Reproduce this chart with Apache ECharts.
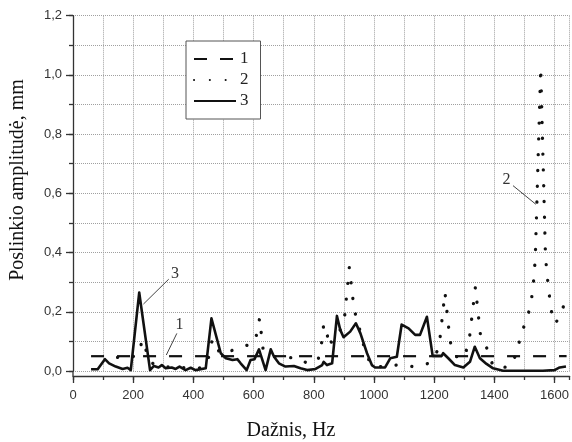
<!DOCTYPE html>
<html><head><meta charset="utf-8">
<script src="https://cdn.jsdelivr.net/npm/echarts@6/dist/echarts.min.js"></script>
<style>html,body{margin:0;padding:0;background:#fff}#c{width:572px;height:442px}</style>
</head><body><div id="c"></div>
<script>
// ---- data ----
const seriesNames = ['1', '2', '3'];
const xTitle = 'Dažnis, Hz';
const yTitle = 'Poslinkio amplitudė, mm';

// curve 1: dashed limit
const curve1 = [[60, 0.05], [1640, 0.05]];
// curve 2: dotted
const curve2 = [
  [148, 0.046], [212, 0.05], [232, 0.105], [255, 0.03], [290, 0.015], [350, 0.012], [420, 0.01],
  [445, 0.02], [463, 0.107], [490, 0.057], [530, 0.07], [561, 0.08], [605, 0.097], [620, 0.178],
  [632, 0.07], [660, 0.05], [700, 0.045], [747, 0.045], [783, 0.023], [815, 0.04], [828, 0.105],
  [833, 0.159], [845, 0.12], [855, 0.082], [861, 0.11], [885, 0.13], [903, 0.189], [918, 0.35],
  [934, 0.208], [950, 0.15], [970, 0.07], [990, 0.02], [1040, 0.012], [1075, 0.02], [1129, 0.015],
  [1184, 0.026], [1212, 0.07], [1219, 0.107], [1236, 0.265], [1253, 0.1], [1269, 0.05],
  [1299, 0.043], [1316, 0.1], [1337, 0.283], [1354, 0.12], [1379, 0.069], [1396, 0.015],
  [1449, 0.012], [1475, 0.06], [1486, 0.114], [1504, 0.167], [1521, 0.22], [1530, 0.3],
  [1536, 0.38], [1554, 1.025], [1570, 0.385], [1580, 0.276], [1594, 0.17], [1602, 0.16],
  [1619, 0.186], [1640, 0.25]
];
// curve 3: solid
const curve3 = [
  [60, 0.006], [82, 0.006], [106, 0.04], [120, 0.026], [142, 0.015], [165, 0.007], [181, 0.011],
  [192, 0.003], [220, 0.265], [256, 0.003], [269, 0.017], [284, 0.012], [295, 0.02], [308, 0.009],
  [328, 0.012], [341, 0.007], [354, 0.015], [374, 0.003], [391, 0.011], [407, 0.003], [441, 0.009],
  [460, 0.178], [491, 0.06], [508, 0.043], [530, 0.037], [546, 0.04], [557, 0.026], [577, 0.003],
  [590, 0.037], [603, 0.04], [618, 0.073], [640, 0.003], [657, 0.073], [668, 0.048], [684, 0.026],
  [706, 0.015], [734, 0.017], [756, 0.009], [778, 0.003], [806, 0.007], [828, 0.02], [833, 0.031],
  [844, 0.02], [861, 0.026], [877, 0.186], [888, 0.139], [899, 0.114], [921, 0.133], [940, 0.161],
  [955, 0.127], [977, 0.06], [993, 0.02], [1004, 0.012], [1037, 0.012], [1054, 0.043],
  [1076, 0.048], [1092, 0.157], [1115, 0.144], [1137, 0.122], [1153, 0.122], [1176, 0.183],
  [1195, 0.051], [1225, 0.051], [1230, 0.06], [1247, 0.043], [1269, 0.02], [1297, 0.012],
  [1319, 0.031], [1335, 0.082], [1352, 0.043], [1374, 0.024], [1396, 0.009], [1429, 0.001],
  [1561, 0.001], [1600, 0.003], [1617, 0.012], [1638, 0.015]
];
// annotation labels (data coordinates): text anchor, leader start, leader end
const annotations = [
  { text: '3', at: [339, 0.329], from: [318, 0.31], to: [234, 0.226] },
  { text: '1', at: [354, 0.155], from: [345, 0.127], to: [310, 0.054] },
  { text: '2', at: [1440, 0.646], from: [1462, 0.626], to: [1538, 0.563] }
];

// ---- chart ----
const chart = echarts.init(document.getElementById('c'), null, { renderer: 'canvas' });
const SERIF = '"Liberation Serif", "Times New Roman", serif';
const SANS = '"Liberation Sans", Arial, sans-serif';
const AX = '#333';
const GRIDC = '#a0a0a0';
const AXIS_DROP = 5; // x axis sits a few pixels below the zero line

const gridLine = () => ({ show: true, lineStyle: { color: GRIDC, type: [1, 1], width: 1 } });

chart.setOption({
  animation: false,
  backgroundColor: '#fff',
  grid: { left: 73, right: 0, top: 15.7, bottom: 71, containLabel: false },
  legend: {
    orient: 'vertical', left: 186, top: 41,
    data: seriesNames,
    borderColor: '#555', borderWidth: 1,
    backgroundColor: '#fff',
    padding: [9.5, 12, 9.5, 7],
    itemGap: 4, itemWidth: 42, itemHeight: 14,
    selectedMode: false,
    itemStyle: { color: 'rgba(0,0,0,0)', borderColor: 'rgba(0,0,0,0)', borderWidth: 0 },
    textStyle: { fontFamily: SERIF, fontSize: 17, color: '#222', padding: [0, 0, 0, -1] }
  },
  xAxis: [
    { type: 'value', min: 0, max: 1650, interval: 200, position: 'bottom', offset: AXIS_DROP,
      axisLine: { show: true, onZero: false, lineStyle: { color: AX, width: 1.3 } },
      axisTick: { show: true, inside: false, length: 7, lineStyle: { color: AX, width: 1.3 } },
      axisLabel: { show: true, showMaxLabel: false, margin: 13, color: '#333', fontFamily: SANS, fontSize: 13,
        formatter: v => String(v) },
      splitLine: { show: false } },
    { type: 'value', min: 0, max: 1650, interval: 100, position: 'bottom', offset: AXIS_DROP,
      axisLine: { show: false, onZero: false },
      axisTick: { show: true, inside: false, length: 4, lineStyle: { color: AX, width: 1.3 } },
      axisLabel: { show: false },
      splitLine: gridLine() }
  ],
  yAxis: [
    { type: 'value', min: 0, max: 1.2, interval: 0.2, position: 'left',
      axisLine: { show: true, onZero: false, lineStyle: { color: AX, width: 1.3 } },
      axisTick: { show: true, inside: false, length: 7, lineStyle: { color: AX, width: 1.3 } },
      axisLabel: { show: true, margin: 11, color: '#333', fontFamily: SANS, fontSize: 13,
        formatter: v => v.toFixed(1).replace('.', ',') },
      splitLine: { show: false } },
    { type: 'value', min: 0, max: 1.2, interval: 0.1, position: 'left',
      axisLine: { show: false, onZero: false },
      axisTick: { show: true, inside: false, length: 4, lineStyle: { color: AX, width: 1.3 } },
      axisLabel: { show: false },
      splitLine: gridLine() }
  ],
  series: [
    { name: seriesNames[0], type: 'line', data: curve1, symbol: 'none', xAxisIndex: 0, yAxisIndex: 0,
      itemStyle: { color: '#111' },
      lineStyle: { color: '#111', width: 2.2, type: [13, 13] }, z: 3 },
    { name: seriesNames[1], type: 'line', data: curve2, symbol: 'none', xAxisIndex: 0, yAxisIndex: 0,
      itemStyle: { color: '#111' },
      lineStyle: { color: '#111', width: 3.3, type: [0.1, 15.7], cap: 'round' }, z: 4 },
    { name: seriesNames[2], type: 'line', data: curve3, symbol: 'none', xAxisIndex: 0, yAxisIndex: 0,
      itemStyle: { color: '#111' },
      lineStyle: { color: '#111', width: 2.6, join: 'round' }, z: 5 }
  ]
});

function px(p) { return chart.convertToPixel({ xAxisIndex: 0, yAxisIndex: 0 }, p); }
const graphics = [];
// extend the y axis line down to the dropped x axis
const origin = px([0, 0]);
graphics.push({ type: 'line', shape: { x1: origin[0], y1: origin[1], x2: origin[0], y2: origin[1] + AXIS_DROP },
  style: { stroke: AX, lineWidth: 1.3 }, z: 10 });
annotations.forEach(a => {
  const t = px(a.at), f = px(a.from), e = px(a.to);
  graphics.push({ type: 'line', shape: { x1: f[0], y1: f[1], x2: e[0], y2: e[1] },
    style: { stroke: '#444', lineWidth: 1 }, z: 10 });
  graphics.push({ type: 'text', x: t[0], y: t[1], z: 10,
    style: { text: a.text, font: '16px ' + SERIF, fill: '#333', align: 'center', verticalAlign: 'middle' } });
});
graphics.push({ type: 'text', x: 291, y: 431, style: { text: xTitle, font: '20px ' + SERIF, fill: '#111', align: 'center', verticalAlign: 'middle' } });
graphics.push({ type: 'text', x: 18, y: 180, rotation: Math.PI / 2, style: { text: yTitle, font: '20px ' + SERIF, fill: '#111', align: 'center', verticalAlign: 'middle' } });
chart.setOption({ graphic: graphics });
</script>
</body></html>
